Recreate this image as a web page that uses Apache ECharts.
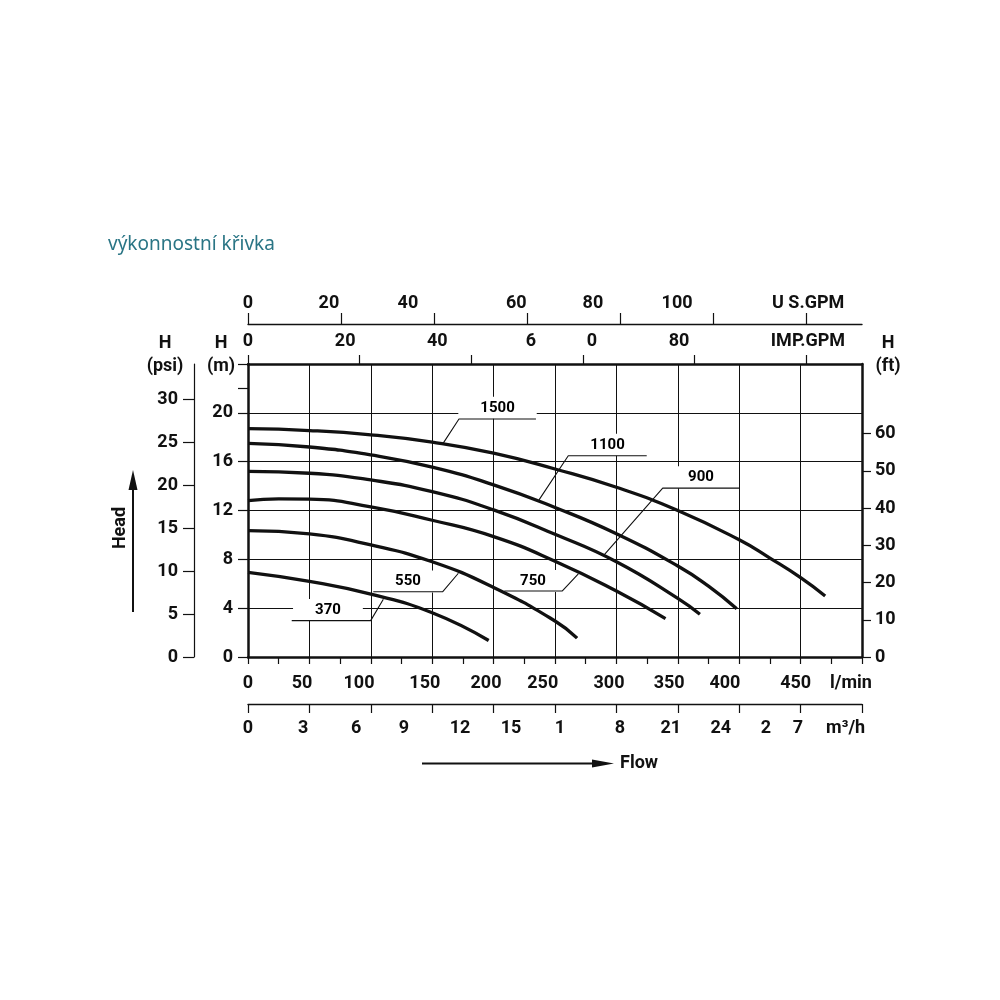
<!DOCTYPE html>
<html>
<head>
<meta charset="utf-8">
<script src="https://cdn.jsdelivr.net/npm/echarts@6/dist/echarts.min.js"></script>
<style>html,body{margin:0;padding:0;background:#fff}#c{width:1000px;height:1000px}</style>
</head>
<body>
<div id="c"></div>
<script>
// ---- curve data: flow (l/min) and head (m) ----
const q1500 = [0, 50, 100, 150, 200, 250, 300, 350, 400, 425, 450, 470];
const h1500 = [18.7, 18.55, 18.2, 17.6, 16.7, 15.4, 13.9, 12.0, 9.6, 8.1, 6.5, 5.0];
const q1100 = [0, 50, 100, 150, 200, 250, 300, 350, 375, 398];
const h1100 = [17.5, 17.2, 16.55, 15.55, 14.1, 12.25, 10.1, 7.45, 5.8, 3.95];
const q900 = [0, 50, 100, 150, 200, 250, 300, 350, 368];
const h900 = [15.2, 15.05, 14.5, 13.55, 12.05, 10.05, 7.8, 4.8, 3.5];
const q750 = [0, 25, 50, 100, 150, 200, 250, 300, 340];
const h750 = [12.8, 12.95, 12.93, 12.3, 11.2, 9.86, 7.85, 5.4, 3.15];
const q550 = [0, 50, 100, 150, 200, 250, 268];
const h550 = [10.35, 10.08, 9.18, 7.8, 5.7, 2.95, 1.55];
const q370 = [0, 50, 100, 150, 196];
const h370 = [6.94, 6.2, 5.15, 3.62, 1.35];

// ---- curve tags (power, W) and their leader lines (l/min, m) ----
const tagNames = ['370', '550', '750', '900', '1100', '1500'];
const tagQ = [65.1, 130.3, 232.1, 368.9, 292.8, 203.2];
const tagH = [3.85, 6.19, 6.23, 14.73, 17.38, 20.41];
const leader370 = [[35.6, 2.98], [99.9, 2.98], [110.2, 4.73]];
const leader550 = [[102, 5.35], [158.6, 5.35], [171.3, 6.86]];
const leader750 = [[208.7, 5.41], [256, 5.41], [269, 6.8]];
const leader900 = [[400, 13.83], [337.7, 13.83], [289.3, 8.28]];
const leader1100 = [[324.7, 16.48], [260.8, 16.48], [237, 12.87]];
const leader1500 = [[234.5, 19.5], [171.8, 19.5], [159, 17.52]];

// ---- tick labels ----
const lminLabels = ['0', '50', '100', '150', '200', '250', '300', '350', '400', '450', 'l/min'];
const lminLabelAt = [0, 44, 90.4, 144, 193.8, 240, 294, 343, 388.4, 446, 491];
const m3hLabels = ['0', '3', '6', '9', '12', '15', '1', '8', '21', '24', '2', '7', 'm³/h'];
const m3hLabelAt = [0, 2.69, 5.28, 7.62, 10.36, 12.85, 15.24, 18.17, 20.66, 23.1, 25.3, 26.87, 29.2];
const usLabels = ['0', '20', '40', '60', '80', '100', 'U S.GPM'];
const usLabelAt = [0, 17.4, 34.4, 57.7, 74.2, 92.3, 120.5];
const usTicks = [0, 20, 40, 60, 80, 100, 120];
const impLabels = ['0', '20', '40', '6', '0', '80', 'IMP.GPM'];
const impLabelAt = [0, 17.4, 33.9, 50.7, 61.6, 77.2, 100.3];
const impTicks = [0, 20, 40, 60, 80, 100];
const mExtraTicks = [22];
const mLabels = [0, 4, 8, 12, 16, 20];
const psiTicks = [0, 5, 10, 15, 20, 25, 30];
const ftTicks = [0, 10, 20, 30, 40, 50, 60];
const unitTitles = ['H\n(psi)', 'H\n(m)', 'H\n(ft)'];

const INK = '#111';
const FONT = 'Roboto';
const lbl = {color: INK, fontFamily: FONT, fontWeight: 'bold', fontSize: 18};

function labelFmt(at, texts) {
  return function (v) {
    for (let i = 0; i < at.length; i++) if (Math.abs(at[i] - v) < 1e-6) return texts[i];
    return '';
  };
}
function pairs(q, h) { return q.map((x, i) => [x, h[i]]); }

const curves = [
  ['1500', q1500, h1500], ['1100', q1100, h1100], ['900', q900, h900],
  ['750', q750, h750], ['550', q550, h550], ['370', q370, h370]
];
const leaders = [leader370, leader550, leader750, leader900, leader1100, leader1500];

const series = [];
curves.forEach(c => series.push({
  type: 'line', name: c[0], data: pairs(c[1], c[2]), smooth: 0.5,
  showSymbol: false, symbol: 'none', z: 5, silent: true,
  lineStyle: {color: INK, width: 3.3}
}));
leaders.forEach(d => series.push({
  type: 'line', data: d, showSymbol: false, symbol: 'none', z: 4, silent: true,
  lineStyle: {color: INK, width: 1.1}
}));
series.push({
  type: 'scatter', z: 3, silent: true, symbolSize: 1,
  itemStyle: {color: '#fff', opacity: 1},
  data: tagNames.map((n, i) => [tagQ[i], tagH[i], n]),
  label: {
    show: true, position: 'inside', formatter: p => p.data[2],
    color: '#000', fontFamily: FONT, fontWeight: 'bold', fontSize: 15, lineHeight: 15,
    textBorderWidth: 0, opacity: 1,
    backgroundColor: '#fff', padding: [4, 22, 3, 22]
  }
});

const titleGraphics = [165, 221, 888].map((x, i) => ({
  type: 'text', x: x, y: 355,
  style: {text: unitTitles[i], fill: INK, font: 'bold 18px Roboto', lineHeight: 23,
    align: 'center', verticalAlign: 'middle'}
}));

const option = {
  animation: false,
  backgroundColor: '#fff',
  title: {
    text: 'výkonnostní křivka', left: 103, top: 230,
    textStyle: {color: '#2a7585', fontFamily: 'Noto Sans', fontWeight: 'normal', fontSize: 19}
  },
  grid: {left: 248, top: 364, width: 614, height: 293, show: false},
  xAxis: [
    { // l/min
      type: 'value', position: 'bottom', min: 0, max: 500, interval: 50,
      axisLine: {show: true, onZero: false, lineStyle: {color: INK, width: 2.5}},
      axisTick: {show: true, length: 7, lineStyle: {color: INK, width: 1.2}},
      minorTick: {show: true, splitNumber: 2, length: 7, lineStyle: {color: INK, width: 1.2}},
      splitLine: {show: true, lineStyle: {color: INK, width: 1}},
      axisLabel: Object.assign({customValues: lminLabelAt, formatter: labelFmt(lminLabelAt, lminLabels), margin: 17}, lbl)
    },
    { // m3/h
      type: 'value', position: 'bottom', offset: 47, min: 0, max: 30, interval: 3,
      axisLine: {show: true, onZero: false, lineStyle: {color: INK, width: 1.4}},
      axisTick: {show: true, length: 9, lineStyle: {color: INK, width: 1.2}},
      splitLine: {show: false},
      axisLabel: Object.assign({customValues: m3hLabelAt, formatter: labelFmt(m3hLabelAt, m3hLabels), margin: 15}, lbl)
    },
    { // US GPM
      type: 'value', position: 'top', offset: 40, min: 0, max: 500 / 3.7854, interval: 20,
      axisLine: {show: true, onZero: false, lineStyle: {color: INK, width: 1.4}},
      axisTick: {show: true, customValues: usTicks, length: 11, lineStyle: {color: INK, width: 1.2}},
      splitLine: {show: false},
      axisLabel: Object.assign({customValues: usLabelAt, formatter: labelFmt(usLabelAt, usLabels), margin: 12}, lbl)
    },
    { // IMP GPM
      type: 'value', position: 'top', offset: 0, min: 0, max: 500 / 4.5461, interval: 20,
      axisLine: {show: true, onZero: false, lineStyle: {color: INK, width: 2.5}},
      axisTick: {show: true, customValues: impTicks, length: 9, lineStyle: {color: INK, width: 1.2}},
      splitLine: {show: false},
      axisLabel: Object.assign({customValues: impLabelAt, formatter: labelFmt(impLabelAt, impLabels), margin: 14}, lbl)
    }
  ],
  yAxis: [
    { // m
      type: 'value', position: 'left', min: 0, max: 24, interval: 4,
      axisLine: {show: true, onZero: false, lineStyle: {color: INK, width: 2.5}},
      axisTick: {show: true, length: 10, lineStyle: {color: INK, width: 1.2}},
      splitLine: {show: true, lineStyle: {color: INK, width: 1}},
      axisLabel: Object.assign({customValues: mLabels, margin: 15}, lbl)
    },
    { // psi
      type: 'value', position: 'left', offset: 54, min: 0, max: 24 * 1.4219, interval: 5,
      axisLine: {show: true, onZero: false, lineStyle: {color: INK, width: 1.2}},
      axisTick: {show: true, customValues: psiTicks, length: 11, lineStyle: {color: INK, width: 1.2}},
      splitLine: {show: false},
      axisLabel: Object.assign({customValues: psiTicks, margin: 16}, lbl)
    },
    { // ft
      type: 'value', position: 'right', min: 0, max: 24 * 3.2808, interval: 10,
      axisLine: {show: true, onZero: false, lineStyle: {color: INK, width: 2.5}},
      axisTick: {show: true, customValues: ftTicks, length: 9, lineStyle: {color: INK, width: 1.2}},
      splitLine: {show: false},
      axisLabel: Object.assign({customValues: ftTicks, margin: 13}, lbl)
    },
    { // extra m tick at 22
      type: 'value', position: 'left', min: 0, max: 24, interval: 2,
      axisLine: {show: false},
      axisTick: {show: true, customValues: mExtraTicks, length: 10, lineStyle: {color: INK, width: 1.2}},
      splitLine: {show: false},
      axisLabel: {show: false}
    }
  ],
  graphic: titleGraphics.concat([
    {type: 'line', shape: {x1: 133, y1: 612, x2: 133, y2: 486}, style: {stroke: INK, lineWidth: 2}},
    {type: 'polygon', shape: {points: [[128.5, 490], [137.5, 490], [133, 470]]}, style: {fill: INK}},
    {type: 'text', x: 120, y: 528, rotation: Math.PI / 2,
      style: {text: 'Head', fill: INK, font: 'bold 18px Roboto', align: 'center', verticalAlign: 'middle'}},
    {type: 'line', shape: {x1: 422, y1: 763.5, x2: 596, y2: 763.5}, style: {stroke: INK, lineWidth: 2}},
    {type: 'polygon', shape: {points: [[592, 759.5], [614, 763.5], [592, 767.5]]}, style: {fill: INK}},
    {type: 'text', x: 620, y: 763,
      style: {text: 'Flow', fill: INK, font: 'bold 18px Roboto', align: 'left', verticalAlign: 'middle'}}
  ]),
  series: series
};

const chart = echarts.init(document.getElementById('c'), null, {renderer: 'canvas'});
chart.setOption(option);
</script>
</body>
</html>
